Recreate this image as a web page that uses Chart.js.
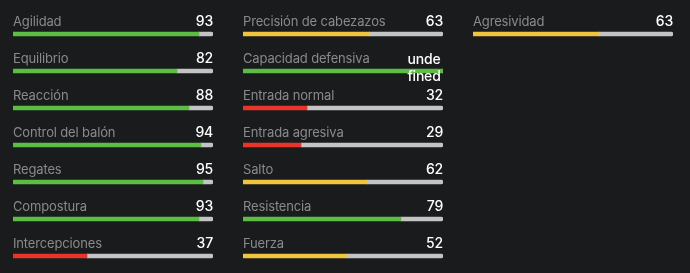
<!DOCTYPE html>
<html>
<head>
<meta charset="utf-8">
<script src="https://cdn.jsdelivr.net/npm/chart.js@4.4.1/dist/chart.umd.min.js"></script>
<style>
  html, body { margin: 0; padding: 0; background: #1a1b1d; overflow: hidden; }
  #wrap { position: relative; width: 690px; height: 273px; overflow: hidden; background: #1a1b1d; }
  .col { position: absolute; top: 0; }
</style>
</head>
<body>
<div id="wrap">
  <canvas id="c1" class="col" style="left:0px"></canvas>
  <canvas id="c2" class="col" style="left:230px"></canvas>
  <canvas id="c3" class="col" style="left:460px"></canvas>
</div>
<script>
const col1Labels = ['Agilidad', 'Equilibrio', 'Reacción', 'Control del balón', 'Regates', 'Compostura', 'Intercepciones'];
const col1Values = [93, 82, 88, 94, 95, 93, 37];
const col2Labels = ['Precisión de cabezazos', 'Capacidad defensiva', 'Entrada normal', 'Entrada agresiva', 'Salto', 'Resistencia', 'Fuerza'];
const col2Values = [63, undefined, 32, 29, 62, 79, 52];
const col3Labels = ['Agresividad'];
const col3Values = [63];
const maxValue = 100;

const GREEN = '#5cbd45', YELLOW = '#f0c43e', RED = '#e8342a', GRAY = '#c4c4c4';
function colorFor(v) {
  if (v === undefined || v === null) return GREEN;
  if (v >= 70) return GREEN;
  if (v >= 40) return YELLOW;
  return RED;
}

const ROW = 37, PAD_TOP = 15.5;

const textPlugin = {
  id: 'rowText',
  afterDatasetsDraw(chart) {
    const ctx = chart.ctx;
    const area = chart.chartArea;
    const meta = chart.getDatasetMeta(0);
    const labels = chart.data.labels;
    const vals = chart.options.plugins.rowText.values;
    ctx.save();
    ctx.textBaseline = 'alphabetic';
    meta.data.forEach((bar, i) => {
      const y = bar.y - 8;
      ctx.font = '400 13px Inter, "Open Sans", sans-serif';
      if ('letterSpacing' in ctx) ctx.letterSpacing = '-0.15px';
      ctx.fillStyle = '#8a8a8c';
      ctx.textAlign = 'left';
      ctx.fillText(labels[i], area.left, y);
      ctx.font = '500 14px Inter, "Open Sans", sans-serif';
      if ('letterSpacing' in ctx) ctx.letterSpacing = '-0.2px';
      ctx.fillStyle = '#ffffff';
      const v = vals[i];
      if (v === undefined || v === null) {
        const s = String(v);
        ctx.textAlign = 'center';
        const cx = area.right - 19;
        ctx.fillText(s.slice(0, 4), cx, y + 1);
        ctx.fillText(s.slice(4), cx, y + 18);
      } else {
        ctx.textAlign = 'right';
        ctx.fillText(String(v), area.right, y);
      }
    });
    ctx.restore();
  }
};

function makeChart(id, labels, values) {
  const canvas = document.getElementById(id);
  const h = Math.ceil(PAD_TOP + labels.length * ROW + 1);
  canvas.width = 230; canvas.height = h;
  canvas.style.width = '230px'; canvas.style.height = h + 'px';
  const filled = values.map(v => (v === undefined || v === null) ? maxValue : v);
  const rest = values.map(v => (v === undefined || v === null) ? 0 : maxValue - v);
  new Chart(canvas, {
    type: 'bar',
    data: {
      labels: labels,
      datasets: [
        { data: filled, backgroundColor: values.map(colorFor), barThickness: 4, borderRadius: 0, borderSkipped: false },
        { data: rest, backgroundColor: GRAY, barThickness: 4, borderRadius: { topRight: 2, bottomRight: 2 }, borderSkipped: false }
      ]
    },
    options: {
      indexAxis: 'y',
      responsive: false,
      animation: false,
      devicePixelRatio: 1,
      layout: { padding: { left: 13, right: 17, top: PAD_TOP, bottom: h - PAD_TOP - labels.length * ROW } },
      scales: {
        x: { display: false, stacked: true, min: 0, max: maxValue },
        y: { display: false, stacked: true }
      },
      plugins: {
        legend: { display: false },
        tooltip: { enabled: false },
        rowText: { values: values }
      }
    },
    plugins: [textPlugin]
  });
}

makeChart('c1', col1Labels, col1Values);
makeChart('c2', col2Labels, col2Values);
makeChart('c3', col3Labels, col3Values);
</script>
</body>
</html>
